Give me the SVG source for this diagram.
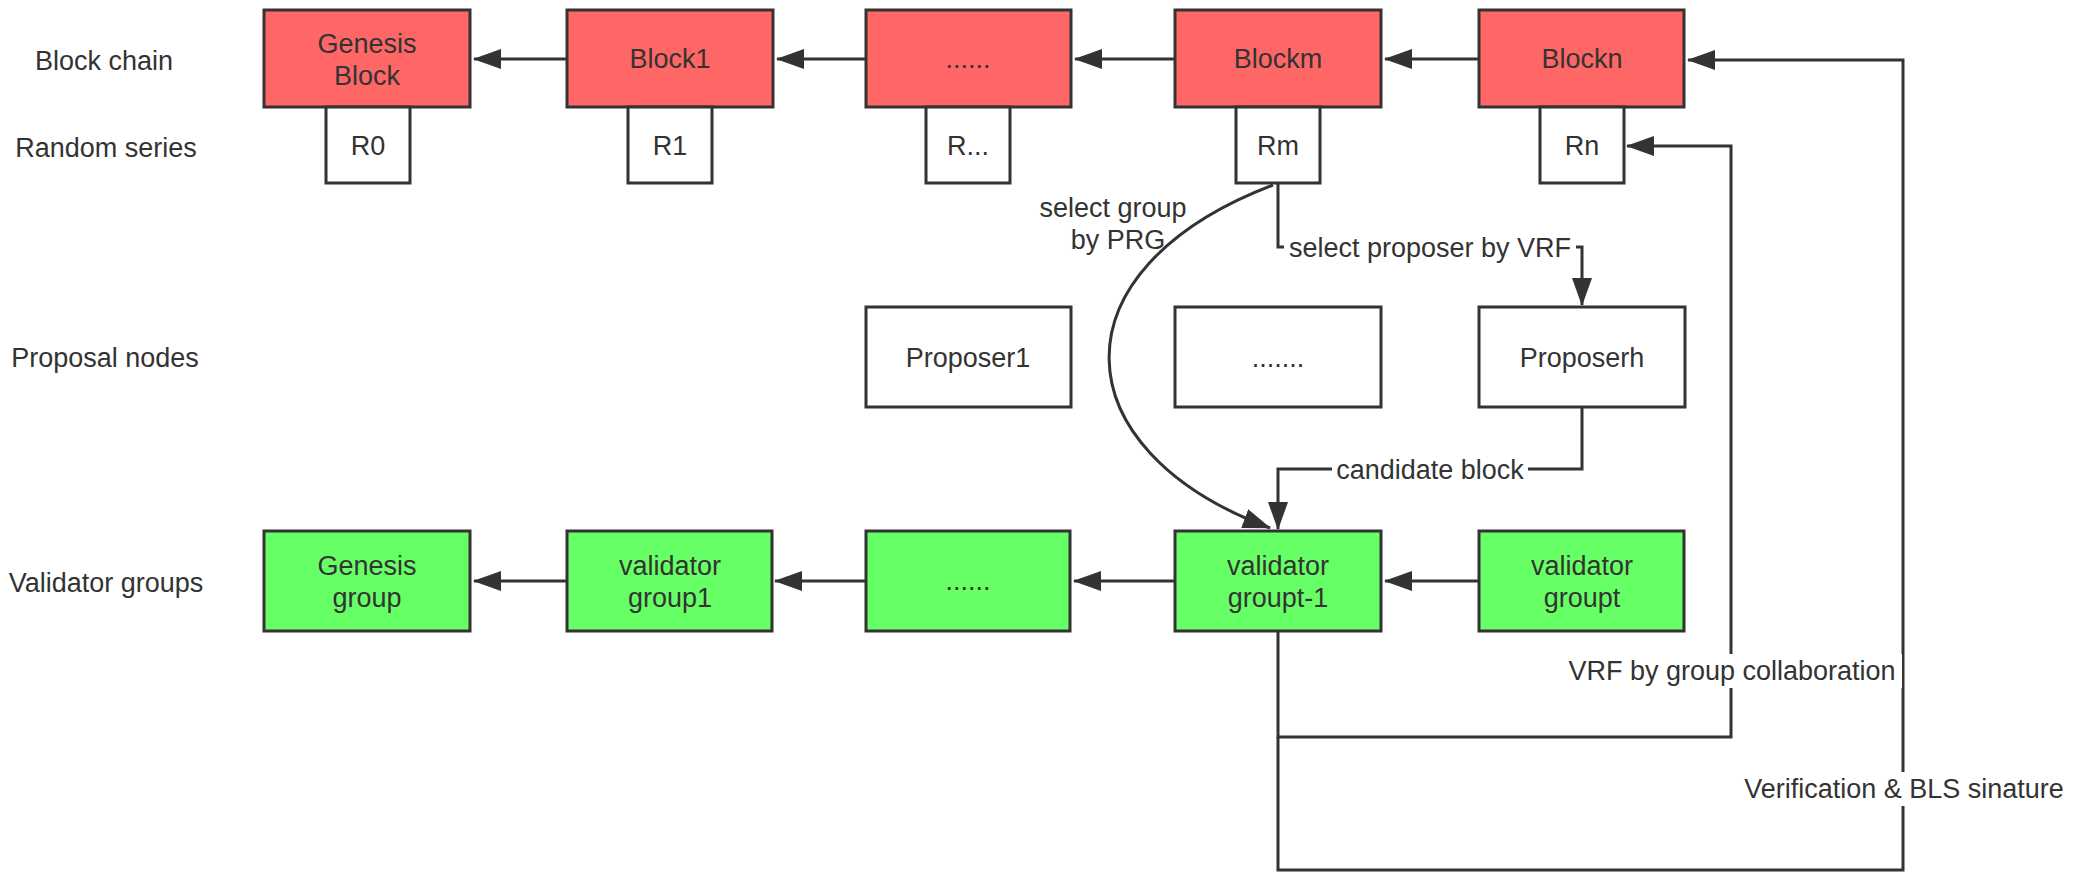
<svg xmlns="http://www.w3.org/2000/svg" width="2080" height="888" viewBox="0 0 2080 888">
<style>
text{font-family:"Liberation Sans",Arial,sans-serif;font-size:27px;fill:#333;text-anchor:middle}
.red{fill:#FF6666;stroke:#333;stroke-width:3}
.grn{fill:#66FF66;stroke:#333;stroke-width:3}
.wht{fill:#fff;stroke:#333;stroke-width:3}
.ln{fill:none;stroke:#333;stroke-width:3}
.ar{marker-end:url(#ah)}
.bg{fill:#fff}
</style>
<defs>
<marker id="ah" markerUnits="userSpaceOnUse" markerWidth="28" markerHeight="20" refX="27" refY="10" orient="auto">
<path d="M0,0 L28,10 L0,20 z" fill="#333"/>
</marker>
</defs>
<rect width="2080" height="888" fill="#fff"/>
<g id="labels">
<text x="104" y="70">Block chain</text>
<text x="106" y="157">Random series</text>
<text x="105" y="367">Proposal nodes</text>
<text x="106" y="592">Validator groups</text>
</g>
<g id="connectors">
<line class="ln ar" x1="567" y1="59" x2="474" y2="59"/>
<line class="ln ar" x1="866" y1="59" x2="777" y2="59"/>
<line class="ln ar" x1="1175" y1="59" x2="1075" y2="59"/>
<line class="ln ar" x1="1479" y1="59" x2="1385" y2="59"/>
<line class="ln ar" x1="567" y1="581" x2="474" y2="581"/>
<line class="ln ar" x1="866" y1="581" x2="775" y2="581"/>
<line class="ln ar" x1="1175" y1="581" x2="1074" y2="581"/>
<line class="ln ar" x1="1479" y1="581" x2="1385" y2="581"/>
<path class="ln ar" d="M1278,183 V247 H1582 V305"/>
<path class="ln ar" d="M1582,407 V469 H1278 V529"/>
<path class="ln ar" d="M1273,185 C1050,270 1060,450 1270,528"/>
<path class="ln ar" d="M1278,631 V737 H1731 V146 H1627"/>
<path class="ln ar" d="M1278,737 V870 H1903 V60 H1688"/>
<rect class="bg" x="1284" y="232" width="292" height="32"/>
<text x="1430" y="257">select proposer by VRF</text>
<rect class="bg" x="1332" y="455" width="196" height="32"/>
<text x="1430" y="479">candidate block</text>
<text y="217"><tspan x="1113">select group</tspan><tspan x="1118" dy="32">by PRG</tspan></text>
<rect class="bg" x="1562" y="654" width="340" height="34"/>
<text x="1732" y="680">VRF by group collaboration</text>
<rect class="bg" x="1734" y="772" width="342" height="34"/>
<text x="1904" y="798">Verification &amp; BLS sinature</text>
</g>
<g id="genesis-block"><rect class="red" x="264" y="10" width="206" height="97"/><text y="53"><tspan x="367">Genesis</tspan><tspan x="367" dy="32">Block</tspan></text></g>
<g id="block1"><rect class="red" x="567" y="10" width="206" height="97"/><text x="670" y="68">Block1</text></g>
<g id="block-dots"><rect class="red" x="866" y="10" width="205" height="97"/><text x="968" y="68">......</text></g>
<g id="blockm"><rect class="red" x="1175" y="10" width="206" height="97"/><text x="1278" y="68">Blockm</text></g>
<g id="blockn"><rect class="red" x="1479" y="10" width="205" height="97"/><text x="1582" y="68">Blockn</text></g>
<g id="r0"><rect class="wht" x="326" y="107" width="84" height="76"/><text x="368" y="155">R0</text></g>
<g id="r1"><rect class="wht" x="628" y="107" width="84" height="76"/><text x="670" y="155">R1</text></g>
<g id="r-dots"><rect class="wht" x="926" y="107" width="84" height="76"/><text x="968" y="155">R...</text></g>
<g id="rm"><rect class="wht" x="1236" y="107" width="84" height="76"/><text x="1278" y="155">Rm</text></g>
<g id="rn"><rect class="wht" x="1540" y="107" width="84" height="76"/><text x="1582" y="155">Rn</text></g>
<g id="proposer1"><rect class="wht" x="866" y="307" width="205" height="100"/><text x="968" y="367">Proposer1</text></g>
<g id="proposer-dots"><rect class="wht" x="1175" y="307" width="206" height="100"/><text x="1278" y="367">.......</text></g>
<g id="proposerh"><rect class="wht" x="1479" y="307" width="206" height="100"/><text x="1582" y="367">Proposerh</text></g>
<g id="genesis-group"><rect class="grn" x="264" y="531" width="206" height="100"/><text y="575"><tspan x="367">Genesis</tspan><tspan x="367" dy="32">group</tspan></text></g>
<g id="validator-group1"><rect class="grn" x="567" y="531" width="205" height="100"/><text y="575"><tspan x="670">validator</tspan><tspan x="670" dy="32">group1</tspan></text></g>
<g id="group-dots"><rect class="grn" x="866" y="531" width="204" height="100"/><text x="968" y="590">......</text></g>
<g id="validator-groupt-1"><rect class="grn" x="1175" y="531" width="206" height="100"/><text y="575"><tspan x="1278">validator</tspan><tspan x="1278" dy="32">groupt-1</tspan></text></g>
<g id="validator-groupt"><rect class="grn" x="1479" y="531" width="205" height="100"/><text y="575"><tspan x="1582">validator</tspan><tspan x="1582" dy="32">groupt</tspan></text></g>
</svg>
